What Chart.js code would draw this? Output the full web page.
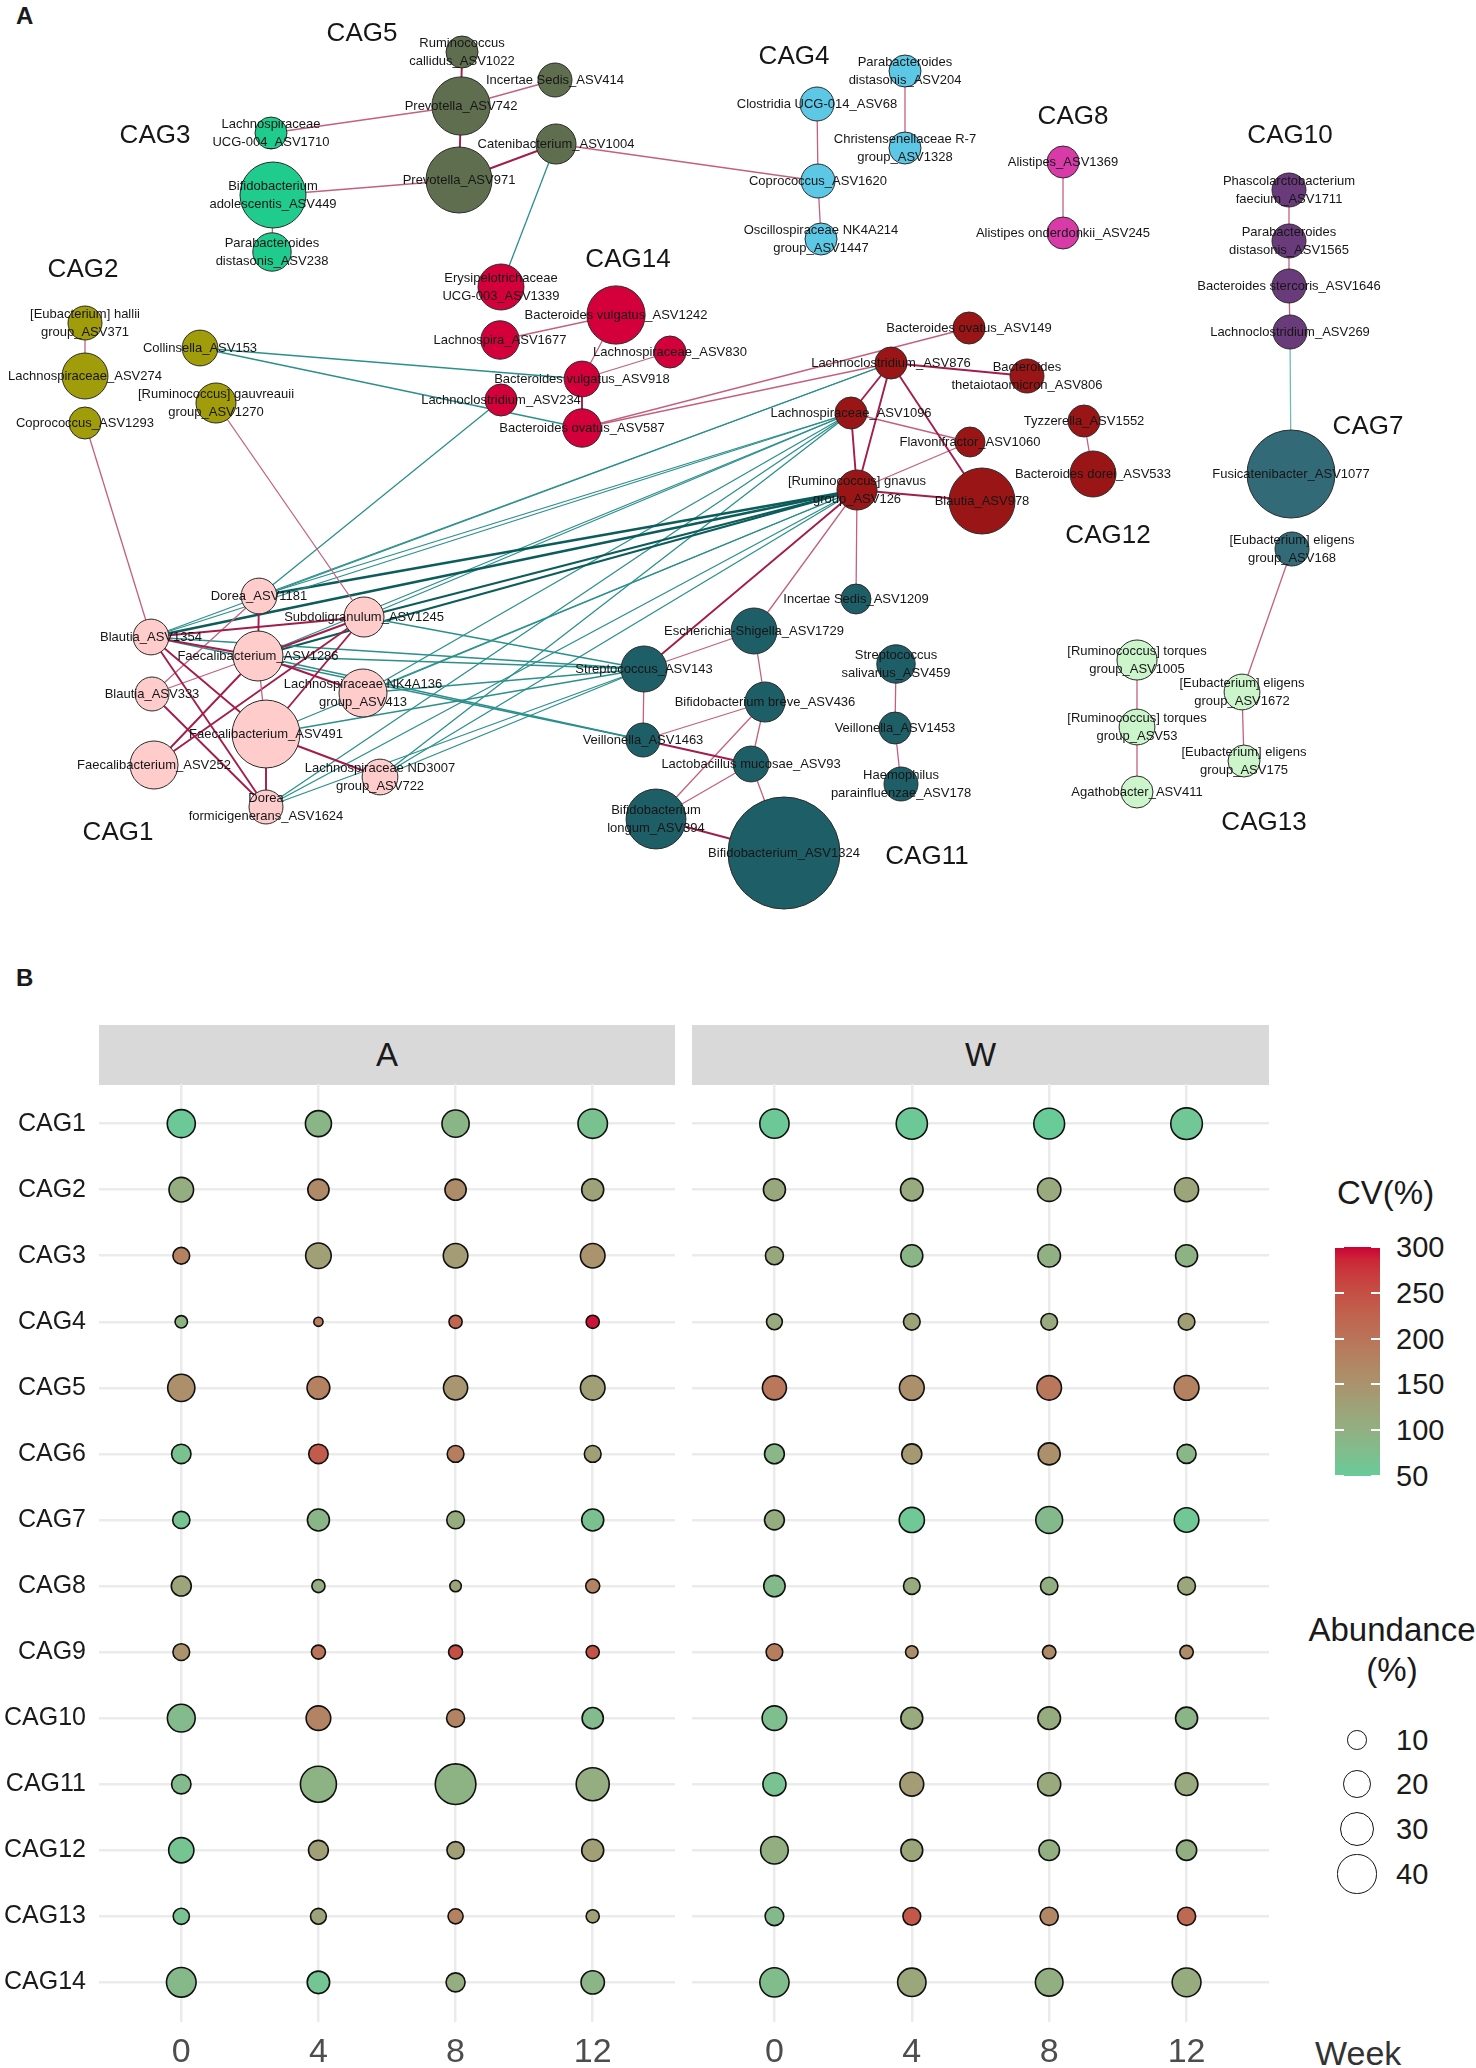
<!DOCTYPE html>
<html><head><meta charset="utf-8">
<script src="https://cdn.jsdelivr.net/npm/chart.js@4.4.0/dist/chart.umd.min.js"></script>
<style>
html,body{margin:0;padding:0;background:#fff;}
body{width:1476px;height:2068px;position:relative;overflow:hidden;font-family:"Liberation Sans",Arial,sans-serif;color:#1a1a1a;}
.abs{position:absolute;}
.panel{font-weight:bold;font-size:24px;}
.strip{background:#d9d9d9;height:60px;top:1025px;font-size:33px;line-height:60px;text-align:center;color:#1a1a1a;}
.lg{font-size:29px;line-height:34px;}
</style></head><body>
<div class="abs panel" style="left:16px;top:2px;">A</div>
<div class="abs panel" style="left:16px;top:964px;">B</div>
<canvas id="net" class="abs" style="left:0;top:0;" width="1476" height="960"></canvas>

<div class="abs strip" style="left:99px;width:576px;">A</div>
<div class="abs strip" style="left:692px;width:577px;">W</div>
<canvas id="facetA" class="abs" style="left:0;top:1084px;" width="676" height="990"></canvas>
<canvas id="facetW" class="abs" style="left:692px;top:1084px;" width="578" height="990"></canvas>
<div class="abs" style="left:1315px;top:2033px;font-size:34px;line-height:40px;color:#333;">Week</div>
<div id="legend"></div>

<script>
// ---------------- DATA : network (panel A) ----------------
const nodeIds = ['ASV1022','ASV414','ASV742','ASV1004','ASV971',
 'ASV1710','ASV449','ASV238',
 'ASV204','ASV68','ASV1328','ASV1620','ASV1447',
 'ASV1369','ASV245',
 'ASV1711','ASV1565','ASV1646','ASV269',
 'ASV371','ASV274','ASV1293','ASV153','ASV1270',
 'ASV1339','ASV1677','ASV234','ASV1242','ASV830','ASV918','ASV587',
 'ASV149','ASV876','ASV806','ASV1096','ASV1552','ASV1060','ASV533','ASV126','ASV978',
 'ASV1077','ASV168',
 'ASV1005','ASV1672','ASV53','ASV175','ASV411',
 'ASV1209','ASV1729','ASV143','ASV459','ASV436','ASV1453','ASV1463','ASV93','ASV178','ASV394','ASV1324',
 'ASV1181','ASV1245','ASV1354','ASV1286','ASV413','ASV333','ASV491','ASV252','ASV722','ASV1624'];
const nodeNames = ['Ruminococcus\ncallidus_ASV1022','Incertae Sedis_ASV414','Prevotella_ASV742','Catenibacterium_ASV1004','Prevotella_ASV971',
 'Lachnospiraceae\nUCG-004_ASV1710','Bifidobacterium\nadolescentis_ASV449','Parabacteroides\ndistasonis_ASV238',
 'Parabacteroides\ndistasonis_ASV204','Clostridia UCG-014_ASV68','Christensenellaceae R-7\ngroup_ASV1328','Coprococcus_ASV1620','Oscillospiraceae NK4A214\ngroup_ASV1447',
 'Alistipes_ASV1369','Alistipes onderdonkii_ASV245',
 'Phascolarctobacterium\nfaecium_ASV1711','Parabacteroides\ndistasonis_ASV1565','Bacteroides stercoris_ASV1646','Lachnoclostridium_ASV269',
 '[Eubacterium] hallii\ngroup_ASV371','Lachnospiraceae_ASV274','Coprococcus_ASV1293','Collinsella_ASV153','[Ruminococcus] gauvreauii\ngroup_ASV1270',
 'Erysipelotrichaceae\nUCG-003_ASV1339','Lachnospira_ASV1677','Lachnoclostridium_ASV234','Bacteroides vulgatus_ASV1242','Lachnospiraceae_ASV830','Bacteroides vulgatus_ASV918','Bacteroides ovatus_ASV587',
 'Bacteroides ovatus_ASV149','Lachnoclostridium_ASV876','Bacteroides\nthetaiotaomicron_ASV806','Lachnospiraceae_ASV1096','Tyzzerella_ASV1552','Flavonifractor_ASV1060','Bacteroides dorei_ASV533','[Ruminococcus] gnavus\ngroup_ASV126','Blautia_ASV978',
 'Fusicatenibacter_ASV1077','[Eubacterium] eligens\ngroup_ASV168',
 '[Ruminococcus] torques\ngroup_ASV1005','[Eubacterium] eligens\ngroup_ASV1672','[Ruminococcus] torques\ngroup_ASV53','[Eubacterium] eligens\ngroup_ASV175','Agathobacter_ASV411',
 'Incertae Sedis_ASV1209','Escherichia-Shigella_ASV1729','Streptococcus_ASV143','Streptococcus\nsalivarius_ASV459','Bifidobacterium breve_ASV436','Veillonella_ASV1453','Veillonella_ASV1463','Lactobacillus mucosae_ASV93','Haemophilus\nparainfluenzae_ASV178','Bifidobacterium\nlongum_ASV394','Bifidobacterium_ASV1324',
 'Dorea_ASV1181','Subdoligranulum_ASV1245','Blautia_ASV1354','Faecalibacterium_ASV1286','Lachnospiraceae NK4A136\ngroup_ASV413','Blautia_ASV333','Faecalibacterium_ASV491','Faecalibacterium_ASV252','Lachnospiraceae ND3007\ngroup_ASV722','Dorea\nformicigenerans_ASV1624'];
const nodeCag = [5,5,5,5,5, 3,3,3, 4,4,4,4,4, 8,8, 10,10,10,10, 2,2,2,2,2,
 14,14,14,14,14,14,14, 12,12,12,12,12,12,12,12,12, 7,7, 13,13,13,13,13,
 11,11,11,11,11,11,11,11,11,11,11, 1,1,1,1,1,1,1,1,1,1];
const nodeX = [462,555,461,556,459, 271,273,272, 905,817,905,818,821, 1063,1063, 1289,1289,1289,1290, 85,85,85,200,216,
 501,500,501,616,670,582,582, 969,891,1027,851,1084,970,1093,857,982, 1291,1292, 1137,1242,1137,1244,1137,
 856,754,644,896,765,895,643,751,901,656,784, 259,364,151,258,363,152,266,154,380,266];
const nodeY = [52,80,106,144,180, 133,195,252, 71,104,148,181,239, 162,233, 190,241,286,332, 323,376,423,348,403,
 287,340,400,315,352,379,428, 328,363,376,413,421,442,474,490,501, 474,549, 660,692,727,761,792,
 599,631,669,664,702,728,740,764,784,819,853, 596,617,637,656,693,694,734,765,777,807];
const nodeWeight = [16,18,53,25,68, 16,68,23, 16,18,16,18,16, 16,16, 18,18,18,18, 18,33,16,20,25,
 33,23,16,53,16,20,23, 16,16,18,16,16,14,33,25,68, 121,18, 25,20,20,16,16,
 14,33,33,23,25,16,18,20,18,56,196, 20,25,20,39,36,18,72,36,20,18];

const edgeFrom = ['ASV1022','ASV742','ASV742','ASV742','ASV971','ASV971','ASV1004','ASV1004','ASV449','ASV204','ASV68','ASV1620','ASV1369',
 'ASV1711','ASV1565','ASV1646','ASV269','ASV168','ASV1005','ASV53','ASV1672','ASV1552',
 'ASV371','ASV1293','ASV1270','ASV153','ASV153',
 'ASV1677','ASV1242','ASV918','ASV918','ASV234','ASV587','ASV587',
 'ASV876','ASV876','ASV876','ASV876','ASV1096','ASV1096','ASV126','ASV126','ASV126','ASV126','ASV126',
 'ASV1729','ASV1729','ASV143','ASV1463','ASV1463','ASV436','ASV436','ASV93','ASV93','ASV394','ASV459','ASV1453',
 'ASV1354','ASV1354','ASV1354','ASV1354','ASV1181','ASV1181','ASV1286','ASV1286','ASV1286','ASV1286','ASV1286','ASV1245','ASV1245','ASV333','ASV491','ASV491',
 'ASV1354','ASV1354','ASV1354','ASV1354','ASV1354','ASV1181','ASV1181','ASV1181','ASV1245','ASV1245','ASV1245',
 'ASV1286','ASV1286','ASV1286','ASV1286','ASV413','ASV413','ASV413','ASV491','ASV491','ASV722','ASV722','ASV722','ASV1624','ASV1624','ASV1624'];
const edgeTo = ['ASV742','ASV414','ASV971','ASV1710','ASV449','ASV1004','ASV1620','ASV1339','ASV238','ASV1328','ASV1620','ASV1447','ASV245',
 'ASV1565','ASV1646','ASV269','ASV1077','ASV1672','ASV53','ASV411','ASV175','ASV533',
 'ASV274','ASV1354','ASV1245','ASV918','ASV587',
 'ASV1242','ASV918','ASV830','ASV587','ASV1181','ASV149','ASV876',
 'ASV806','ASV1096','ASV126','ASV978','ASV126','ASV1060','ASV1060','ASV978','ASV1209','ASV1729','ASV143',
 'ASV143','ASV436','ASV1463','ASV436','ASV93','ASV93','ASV394','ASV394','ASV1324','ASV1324','ASV1453','ASV178',
 'ASV1286','ASV1245','ASV491','ASV1624','ASV1286','ASV333','ASV491','ASV1245','ASV333','ASV252','ASV413','ASV491','ASV252','ASV1624','ASV1624','ASV722',
 'ASV876','ASV1096','ASV126','ASV143','ASV1463','ASV876','ASV1096','ASV126','ASV1096','ASV126','ASV143',
 'ASV1096','ASV126','ASV143','ASV1463','ASV1096','ASV126','ASV143','ASV126','ASV143','ASV1096','ASV126','ASV143','ASV126','ASV143','ASV1096'];
// pos = positive, posS = strong positive, neg = negative, negS = strong negative, negL = weak negative
const edgeKind = ['posS','pos','posS','pos','pos','posS','pos','neg','pos','pos','pos','pos','pos',
 'pos','pos','pos','negL','pos','pos','pos','pos','pos',
 'pos','pos','pos','neg','neg',
 'pos','pos','pos','posS','neg','pos','pos',
 'posS','posS','posS','posS','posS','pos','pos','posS','pos','pos','posS',
 'pos','pos','pos','pos','posS','pos','pos','pos','pos','posS','pos','pos',
 'posS','posS','posS','posS','posS','pos','pos','posS','pos','posS','posS','posS','posS','posS','posS','posS',
 'neg','neg','negS','neg','neg','neg','neg','negS','neg','negS','neg',
 'neg','negS','neg','neg','neg','neg','neg','neg','neg','neg','neg','neg','neg','neg','neg'];

const cagLabelNames = ['CAG1','CAG2','CAG3','CAG4','CAG5','CAG7','CAG8','CAG10','CAG11','CAG12','CAG13','CAG14'];
const cagLabelX = [118,83,155,794,362,1368,1073,1290,927,1108,1264,628];
const cagLabelY = [833,270,136,57,34,427,117,136,857,536,823,260];

// ---------------- DATA : bubble panel (panel B) ----------------
const cagCategories = ['CAG1','CAG2','CAG3','CAG4','CAG5','CAG6','CAG7','CAG8','CAG9','CAG10','CAG11','CAG12','CAG13','CAG14'];
const weekTicks = [0,4,8,12];
const abundA = [[20.4,17.6,19.2,22.5],[15.7,11.7,11.7,12.6],[7.3,17.0,15.7,15.7],[4.0,2.2,4.5,4.5],[19.2,13.5,15.2,15.7],
 [9.8,9.8,7.3,7.3],[7.7,12.6,8.1,12.6],[10.4,4.5,3.4,5.1],[7.3,5.1,5.1,4.5],[20.1,15.7,8.4,11.7],
 [9.8,33.7,42.9,28.3],[16.5,10.2,7.7,12.6],[6.8,6.5,5.9,4.5],[22.8,13.1,9.4,14.2]];
const cvA = [[55,90,90,70],[105,165,160,125],[180,130,135,150],[95,185,220,295],[155,180,145,130],
 [70,235,185,130],[65,90,110,70],[120,105,125,175],[150,200,250,245],[80,175,175,80],
 [80,95,95,105],[65,130,130,130],[68,125,180,130],[85,62,105,92]];
const abundW = [[22.2,25.3,24.7,26.0],[12.6,13.3,14.2,15.0],[8.4,12.6,13.3,12.6],[6.5,7.2,7.2,7.2],[15.0,16.0,15.7,16.0],
 [10.2,10.4,12.6,9.4],[10.2,16.5,18.7,15.7],[11.9,7.2,7.9,8.2],[7.2,4.1,4.7,4.7],[15.7,12.4,13.3,12.6],
 [13.8,14.7,13.8,13.3],[19.8,12.4,11.0,10.6],[9.0,8.2,8.6,8.6],[22.2,21.0,19.8,21.6]];
const cvW = [[55,55,52,60],[115,112,112,120],[115,90,100,95],[112,125,112,130],[195,155,195,180],
 [88,140,155,88],[108,58,82,60],[82,110,102,118],[185,160,165,162],[75,112,110,92],
 [68,135,112,112],[102,120,102,102],[82,240,170,215],[78,118,102,110]];
const cvLegendTicks = [300,250,200,150,100,50];
const abundLegendTicks = [10,20,30,40];

// ---------------- helpers ----------------
Chart.defaults.font.family = '"Liberation Sans", Arial, sans-serif';
Chart.defaults.animation = false;
const cagColors = {1:'#ffcccc',2:'#a19d0a',3:'#1fcc8d',4:'#5cc8e6',5:'#5f6e4e',7:'#336a77',8:'#d83aa8',10:'#6a3b7b',11:'#1e5e67',12:'#9a1616',13:'#ccf5cc',14:'#d4003c'};
const edgeStyles = {pos:['#c4607f',1.3],posS:['#a31d4a',1.9],neg:['#2b8f8c',1.3],negS:['#0c5c5c',2.3],negL:['#6fbcb6',1.3]};

function s2l(c){c/=255;return c<=0.04045?c/12.92:Math.pow((c+0.055)/1.055,2.4);}
function l2s(c){const v=c<=0.0031308?12.92*c:1.055*Math.pow(c,1/2.4)-0.055;return Math.round(Math.max(0,Math.min(1,v))*255);}
function hex2rgb(h){return [1,3,5].map(i=>parseInt(h.substr(i,2),16));}
function rgb2lab(rgb){const [r,g,b]=rgb.map(s2l);
 const X=(0.4124*r+0.3576*g+0.1805*b)/0.95047,Y=(0.2126*r+0.7152*g+0.0722*b),Z=(0.0193*r+0.1192*g+0.9505*b)/1.08883;
 const f=t=>t>0.008856?Math.cbrt(t):7.787*t+16/116;const fx=f(X),fy=f(Y),fz=f(Z);
 return [116*fy-16,500*(fx-fy),200*(fy-fz)];}
function lab2rgb([L,a,b]){const fy=(L+16)/116,fx=fy+a/500,fz=fy-b/200;
 const fi=t=>{const t3=t*t*t;return t3>0.008856?t3:(t-16/116)/7.787;};
 const X=fi(fx)*0.95047,Y=fi(fy),Z=fi(fz)*1.08883;
 const r=3.2406*X-1.5372*Y-0.4986*Z,g=-0.9689*X+1.8758*Y+0.0415*Z,bb=0.0557*X-0.2040*Y+1.0570*Z;
 return [l2s(r),l2s(g),l2s(bb)];}
const LOW=rgb2lab(hex2rgb('#66CC99')), HIGH=rgb2lab(hex2rgb('#CC0033'));
const CV_MIN=50, CV_MAX=300;
function cvColor(cv){const t=Math.max(0,Math.min(1,(cv-CV_MIN)/(CV_MAX-CV_MIN)));
 const c=lab2rgb([0,1,2].map(i=>LOW[i]+(HIGH[i]-LOW[i])*t));return `rgb(${c[0]},${c[1]},${c[2]})`;}
function abundRadius(v){return 3.1*Math.sqrt(v);}

// ---------------- panel A network ----------------
const idx = {}; nodeIds.forEach((id,i)=>idx[id]=i);
const edgeDatasets = edgeFrom.map((f,k)=>{
  const a=idx[f], b=idx[edgeTo[k]]; const st=edgeStyles[edgeKind[k]];
  return {type:'line', data:[{x:nodeX[a],y:nodeY[a]},{x:nodeX[b],y:nodeY[b]}],
    borderColor:st[0], borderWidth:st[1], pointRadius:0, fill:false, tension:0, order:5};
});
const nodeDataset = {type:'bubble', order:1,
  data: nodeIds.map((id,i)=>({x:nodeX[i], y:nodeY[i], r:4*Math.sqrt(nodeWeight[i])})),
  backgroundColor: nodeCag.map(c=>cagColors[c]), borderColor:'#2a2a2a', borderWidth:1};

const netLabels = {
  id:'netLabels',
  afterDatasetsDraw(chart){
    const ctx=chart.ctx; const meta=chart.getDatasetMeta(chart.data.datasets.length-1);
    ctx.save(); ctx.fillStyle='#161616'; ctx.textAlign='center'; ctx.textBaseline='middle';
    ctx.font='13px "Liberation Sans", Arial, sans-serif';
    meta.data.forEach((el,i)=>{
      const lines=nodeNames[i].split('\n');
      lines.forEach((ln,k)=>ctx.fillText(ln, el.x, el.y+(k-(lines.length-1)/2)*18));
    });
    ctx.font='26px "Liberation Sans", Arial, sans-serif';
    const xs=chart.scales.x, ys=chart.scales.y;
    cagLabelNames.forEach((n,i)=>ctx.fillText(n, xs.getPixelForValue(cagLabelX[i]), ys.getPixelForValue(cagLabelY[i])));
    ctx.restore();
  }
};
new Chart(document.getElementById('net'), {
  type:'bubble',
  data:{datasets:[...edgeDatasets, nodeDataset]},
  options:{responsive:false, events:[], layout:{padding:0, autoPadding:false},
    plugins:{legend:{display:false}, tooltip:{enabled:false}},
    scales:{x:{type:'linear',display:false,min:0,max:1476}, y:{type:'linear',display:false,min:0,max:960,reverse:true}}},
  plugins:[netLabels]
});

// ---------------- panel B facets ----------------
function facetData(ab, cv){
  const d=[]; cagCategories.forEach((c,i)=>weekTicks.forEach((w,j)=>d.push({x:w, y:i, r:abundRadius(ab[i][j]), cv:cv[i][j]}))); return d;
}
function facetChart(id, ab, cv, showY){
  return new Chart(document.getElementById(id), {
    type:'bubble',
    data:{datasets:[{data:facetData(ab,cv), backgroundColor:ctx=>cvColor(ctx.raw.cv), borderColor:'#111', borderWidth:1.6}]},
    options:{responsive:false, events:[], layout:{padding:{top:0,right:1,bottom:0,left:0}, autoPadding:false},
      plugins:{legend:{display:false}, tooltip:{enabled:false}},
      scales:{
        x:{type:'linear', min:-2.4, max:14.4,
           afterBuildTicks:s=>{s.ticks=weekTicks.map(v=>({value:v}));},
           grid:{color:'#ebebeb', lineWidth:2.5, drawTicks:false}, border:{display:false},
           ticks:{font:{size:34}, color:'#4d4d4d', padding:10},
           afterFit:s=>{s.height=52; s.paddingLeft=0; s.paddingRight=0;}},
        y:{type:'linear', reverse:true, min:-0.6, max:cagCategories.length-0.4,
           afterBuildTicks:s=>{s.ticks=cagCategories.map((c,i)=>({value:i}));},
           grid:{color:'#ebebeb', lineWidth:2.5, drawTicks:false}, border:{display:false},
           ticks:{display:showY, font:{size:25}, color:'#1a1a1a', padding:13, callback:v=>cagCategories[v]},
           afterFit:s=>{s.width = showY ? 99 : 0; s.paddingTop=0; s.paddingBottom=0;}}
      }}
  });
}
facetChart('facetA', abundA, cvA, true);
facetChart('facetW', abundW, cvW, false);

// ---------------- legends ----------------
(function(){
  const L=document.getElementById('legend');
  let h='';
  h+=`<div class="abs" style="left:1337px;top:1173px;font-size:33px;line-height:40px;">CV(%)</div>`;
  const barTop=1247, barH=229, barL=1335, barW=45;
  const stops=[]; for(let k=0;k<=20;k++){const v=CV_MIN+(CV_MAX-CV_MIN)*k/20; stops.push(`${cvColor(v)} ${(k*5)}%`);}
  h+=`<div class="abs" style="left:${barL}px;top:${barTop}px;width:${barW}px;height:${barH}px;background:linear-gradient(to top, ${stops.join(',')});"></div>`;
  cvLegendTicks.forEach(v=>{
    const y=barTop+barH*(CV_MAX-v)/(CV_MAX-CV_MIN);
    h+=`<div class="abs" style="left:${barL}px;top:${y-1}px;width:9px;height:2px;background:#fff;"></div>`;
    h+=`<div class="abs" style="left:${barL+barW-9}px;top:${y-1}px;width:9px;height:2px;background:#fff;"></div>`;
    h+=`<div class="abs lg" style="left:1396px;top:${y-17}px;">${v}</div>`;
  });
  h+=`<div class="abs" style="left:1292px;width:200px;text-align:center;top:1610px;font-size:33px;line-height:40px;">Abundance<br>(%)</div>`;
  const ys=[1740,1784,1829,1874];
  abundLegendTicks.forEach((v,i)=>{
    const r=abundRadius(v);
    h+=`<div class="abs" style="left:${1357-r}px;top:${ys[i]-r}px;width:${2*r-2}px;height:${2*r-2}px;border:1.5px solid #111;border-radius:50%;"></div>`;
    h+=`<div class="abs lg" style="left:1396px;top:${ys[i]-17}px;">${v}</div>`;
  });
  L.innerHTML=h;
})();
</script>
</body></html>
